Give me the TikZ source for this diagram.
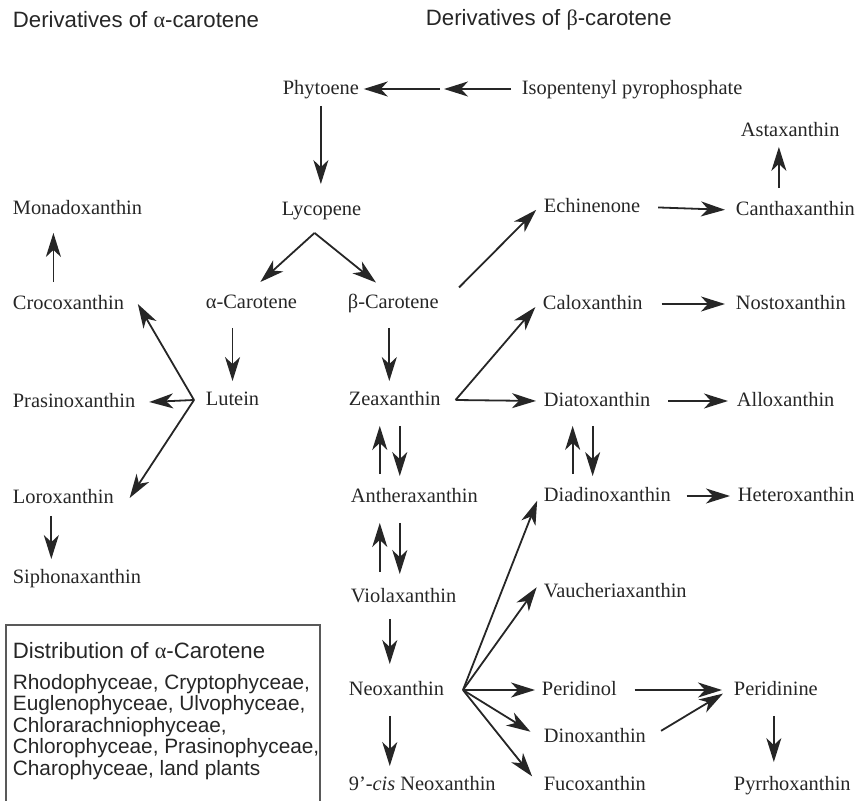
\documentclass[tikz,border=0pt]{standalone}
\usepackage{fontspec}
\setmainfont{Liberation Serif}
\setsansfont{Liberation Sans}
\usetikzlibrary{positioning,arrows.meta}

\begin{document}
\begin{tikzpicture}[x=0.5pt,y=-0.5pt,line width=0.9pt,color=black!85,->,>={Stealth[length=12pt,width=7.5pt,inset=3.5pt]},
	pig/.style={anchor=west,inner sep=2pt,text height=1.5ex,text depth=.25ex,font=\fontsize{10.2}{12}\selectfont},
	hdr/.style={anchor=west,inner sep=2pt,font=\sffamily\fontsize{11.1}{13}\selectfont},
	distr/.style={anchor=west,inner sep=2pt,align=left,font=\sffamily\fontsize{10.4}{10.75}\selectfont},
	every edge/.style={draw,shorten <=6.5pt,shorten >=3pt}]
	\useasboundingbox (0,0) rectangle (856,801);

	% headings
	\node[hdr](hd_a) at (8,20) {Derivatives of {\rmfamily α}-carotene};
	\node[hdr](hd_b) at (421,20) {Derivatives of {\rmfamily β}-carotene};

	% pigments
	\node[pig](phyt) at (278,89) {Phytoene};
	\node[pig](iso) at (517,89) {Isopentenyl pyrophosphate};
	\node[pig](asta) at (736,131) {Astaxanthin};
	\node[pig](lyco) at (277,210) {Lycopene};
	\node[pig](mona) at (8,209) {Monadoxanthin};
	\node[pig](echi) at (539,207) {Echinenone};
	\node[pig](cant) at (731,210) {Canthaxanthin};
	\node[pig](alph) at (201,303) {α-Carotene};
	\node[pig](beta) at (343,303) {β-Carotene};
	\node[pig](croc) at (8,304) {Crocoxanthin};
	\node[pig](calo) at (538,304) {Caloxanthin};
	\node[pig](nost) at (731,304) {Nostoxanthin};
	\node[pig](lute) at (201,400) {Lutein};
	\node[pig](pras) at (8,402) {Prasinoxanthin};
	\node[pig](zeax) at (344,400) {Zeaxanthin};
	\node[pig](diat) at (539,401) {Diatoxanthin};
	\node[pig](allo) at (732,401) {Alloxanthin};
	\node[pig](lorx) at (8,498) {Loroxanthin};
	\node[pig](anth) at (346,497) {Antheraxanthin};
	\node[pig](diad) at (539,496) {Diadinoxanthin};
	\node[pig](hete) at (733,496) {Heteroxanthin};
	\node[pig](siph) at (8,578) {Siphonaxanthin};
	\node[pig](viol) at (346,597) {Violaxanthin};
	\node[pig](vauc) at (539,592) {Vaucheriaxanthin};
	\node[pig](neox) at (344,690) {Neoxanthin};
	\node[pig](peol) at (537,690) {Peridinol};
	\node[pig](peri) at (729,690) {Peridinine};
	\node[pig](dino) at (539,737) {Dinoxanthin};
	\node[pig](fuco) at (539,785) {Fucoxanthin};
	\node[pig](ncis) at (344,785) {9'-\textit{cis} Neoxanthin};
	\node[pig](pyrr) at (729,785) {Pyrrhoxanthin};

	% branch points
	\coordinate (isomid) at ([xshift=-36.5pt]iso.west);
	\coordinate (lycb) at ([xshift=-3.5pt,yshift=-5pt]lyco.south);
	\coordinate (lutb) at ([xshift=-3.5pt]lute.west);
	\coordinate (zeab) at ([xshift=5pt]zeax.east);
	\coordinate (neob) at ([xshift=7pt]neox.east);

	% distribution box
	\draw[-,line width=0.6pt,black!65] (6,625) rectangle (320,815);
	\node[distr](dist_t) at (8,651) {\fontsize{11.1}{13}\selectfont Distribution of {\rmfamily α}-Carotene};
	\node[distr](dist_l) at (8,727) {Rhodophyceae, Cryptophyceae,\\Euglenophyceae, Ulvophyceae,\\Chlorarachniophyceae,\\Chlorophyceae, Prasinophyceae,\\Charophyceae, land plants};

	\path
	(iso) edge[shorten <=3pt,shorten >=0pt] (isomid)
	(isomid) edge[shorten <=2pt,shorten >=0pt] (phyt)
	(phyt.south) edge[shorten <=2pt,shorten >=6.5pt] (phyt.south |- lyco.north)
	(lycb) edge[shorten <=0pt,shorten >=6pt] (alph.north)
	(lycb) edge[shorten <=0pt,shorten >=6pt] ([xshift=-4pt]beta.north)
	(alph.south -| lute) edge[shorten <=6pt] (lute.north)
	([xshift=-2pt]beta.south) edge[shorten <=6pt] ([xshift=-2pt]beta.south |- zeax.north)
	(beta.east) edge[shorten <=11pt,shorten >=2pt] (echi.west)
	(echi.east) edge (cant.west)
	([xshift=-8.25pt]cant.north) edge[shorten <=4.5pt,shorten >=1.5pt] ([xshift=-8.25pt]cant.north |- asta.south)
	(calo.east) edge[shorten <=7pt] (nost.west)
	(lutb) edge[shorten <=0pt,shorten >=0pt] ([xshift=4.5pt]croc.east)
	edge[shorten <=0pt,shorten >=0pt] ([xshift=4.5pt]pras.east)
	edge[shorten <=0pt,shorten >=0pt] ([xshift=5.5pt]lorx.east)
	([xshift=-7.5pt]croc.north) edge[shorten <=4.5pt,shorten >=5.5pt] ([xshift=-7.5pt]croc.north |- mona.south)
	([xshift=-6pt]lorx.south) edge[shorten <=2.5pt] ([xshift=-6pt]lorx.south |- siph.north)
	(zeab) edge[shorten <=0pt,shorten >=2pt] (calo.west)
	edge[shorten <=0pt,shorten >=1.5pt] (diat.west)
	(diat.east) edge[shorten >=2pt] (allo.west)
	(diad.east) edge[shorten <=5.5pt,shorten >=1.5pt] (hete.west)
	([xshift=2.5pt]zeax.south) edge[shorten >=4pt] ([xshift=2.5pt]zeax.south |- anth.north)
	([xshift=-7.5pt]zeax.south |- anth.north) edge[shorten <=5pt,shorten >=6.5pt] ([xshift=-7.5pt]zeax.south)
	([xshift=2.5pt]zeax.south |- anth.south) edge[shorten >=5pt] ([xshift=2.5pt]zeax.south |- viol.north)
	([xshift=-7.5pt]zeax.south |- viol.north) edge[shorten <=6pt,shorten >=6.5pt] ([xshift=-7.5pt]zeax.south |- anth.south)
	([xshift=-2.25pt]diat.south) edge[shorten <=6pt,shorten >=3.5pt] ([xshift=-2.25pt]diat.south |- diad.north)
	([xshift=-12.25pt]diat.south |- diad.north) edge[shorten <=4.5pt,shorten >=6pt] ([xshift=-12.25pt]diat.south)
	([xshift=-2.5pt]zeax.south |- viol.south) edge[shorten <=4.5pt,shorten >=6.5pt] ([xshift=-2.5pt]zeax.south |- neox.north)
	([xshift=-2.5pt]zeax.south |- neox.south) edge ([xshift=-2.5pt]zeax.south |- ncis.north)
	(neob) edge[shorten <=0pt,shorten >=2.5pt] (diad.west)
	edge[shorten <=0pt,shorten >=2pt] ([yshift=4pt]vauc.west)
	edge[shorten <=0pt,shorten >=1pt] (peol.west)
	edge[shorten <=0pt,shorten >=5pt] (dino.west)
	edge[shorten <=0pt,shorten >=5.5pt] (fuco.west)
	(peol.east) edge[shorten >=3.5pt] (peri.west)
	(dino.east) edge[shorten <=6pt,shorten >=3.5pt] (peri.west)
	([xshift=-1pt]peri.south) edge[shorten >=5pt] ([xshift=-1pt]peri.south |- pyrr.north);
\end{tikzpicture}
\end{document}
